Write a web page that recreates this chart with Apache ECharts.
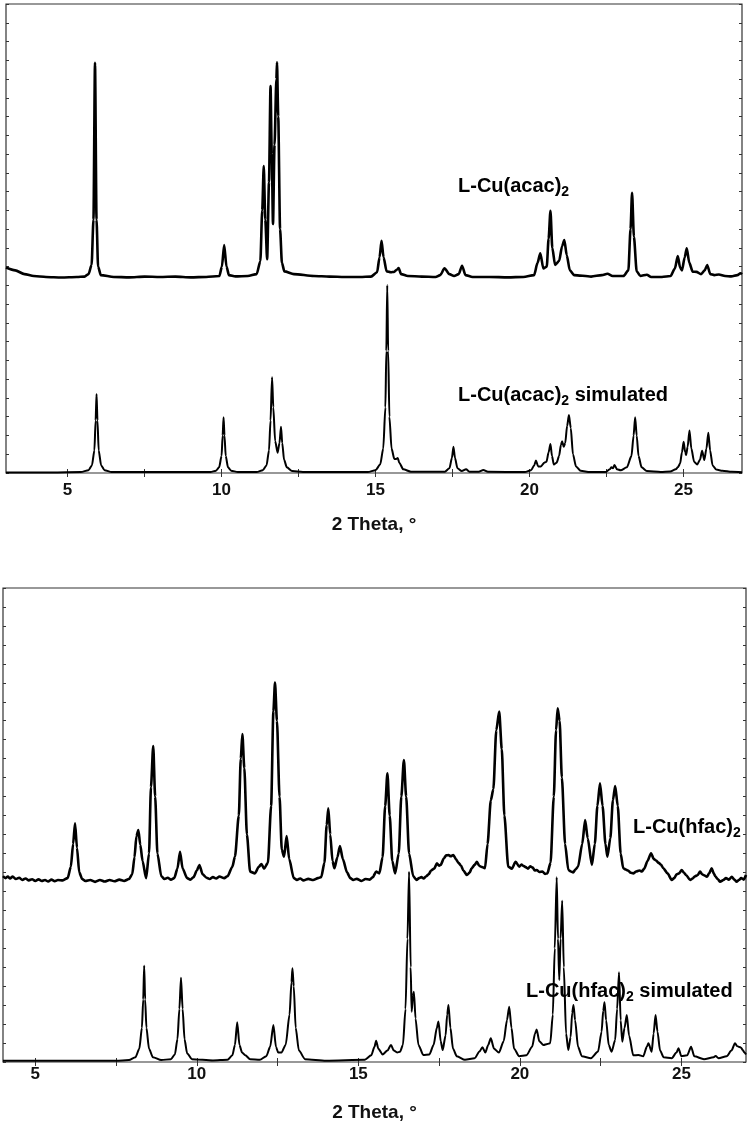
<!DOCTYPE html>
<html>
<head>
<meta charset="utf-8">
<script src="https://cdn.jsdelivr.net/npm/echarts@6/dist/echarts.min.js"></script>
<style>
html,body{margin:0;padding:0;background:#fff;}
#chart{width:751px;height:1126px;}
</style>
</head>
<body>
<div id="chart"></div>
<script>
// ---- tick labels / tick positions (2 Theta, degrees) ----
const xTickValuesTop = [5, 7.5, 10, 12.5, 15, 17.5, 20, 22.5, 25];
const xTickValuesBottom = [5, 7.5, 10, 12.5, 15, 17.5, 20, 22.5, 25];
const xLabelValues = [5, 10, 15, 20, 25];
const axisTitle = '2 Theta, °';

// ---- series names ----
const nameAcacExp = 'L-Cu(acac)2';
const nameAcacSim = 'L-Cu(acac)2 simulated';
const nameHfacExp = 'L-Cu(hfac)2';
const nameHfacSim = 'L-Cu(hfac)2 simulated';

// ---- top panel: L-Cu(acac)2 measured (offset pattern) [2theta, intensity a.u.] ----
const acacExp = [[3.0,10.95],[3.3,10.8],[3.6,10.6],[3.9,10.5],[4.3,10.45],[4.8,10.42],[5.3,10.45],[5.55,10.47],[5.68,10.6],[5.78,11.1],[5.84,13.5],[5.89,21.87],[5.94,13.5],[5.99,11.0],[6.08,10.55],[6.5,10.45],[7.0,10.43],[7.5,10.47],[8.0,10.45],[8.5,10.47],[9.0,10.43],[9.5,10.45],[9.93,10.5],[10.01,11.0],[10.085,12.15],[10.16,11.0],[10.24,10.55],[10.45,10.48],[10.85,10.5],[11.14,10.6],[11.26,11.3],[11.32,14.0],[11.37,16.36],[11.42,13.5],[11.48,11.39],[11.54,15.5],[11.59,20.63],[11.63,17.0],[11.67,13.27],[11.72,17.5],[11.78,21.0],[11.8,21.89],[11.84,19.0],[11.9,13.0],[11.96,11.2],[12.04,10.75],[12.35,10.6],[13.0,10.5],[13.5,10.47],[14.0,10.45],[14.5,10.45],[14.85,10.47],[15.05,10.7],[15.13,11.5],[15.195,12.38],[15.26,11.5],[15.36,10.75],[15.5,10.7],[15.6,10.72],[15.7,10.85],[15.75,10.93],[15.83,10.6],[16.05,10.5],[16.5,10.47],[16.95,10.45],[17.1,10.55],[17.24,10.91],[17.4,10.6],[17.55,10.5],[17.7,10.6],[17.81,11.05],[17.92,10.55],[18.15,10.45],[18.7,10.45],[19.3,10.43],[19.8,10.45],[20.15,10.55],[20.26,11.2],[20.35,11.71],[20.45,10.9],[20.56,11.0],[20.62,12.5],[20.68,13.98],[20.74,12.0],[20.83,11.09],[20.96,11.3],[21.06,12.1],[21.13,12.42],[21.21,11.6],[21.31,10.8],[21.45,10.55],[22.0,10.47],[22.35,10.55],[22.53,10.62],[22.7,10.5],[23.05,10.5],[23.21,10.8],[23.28,13.0],[23.33,14.94],[23.39,12.6],[23.48,10.75],[23.6,10.5],[23.81,10.57],[23.95,10.45],[24.3,10.45],[24.58,10.5],[24.72,10.9],[24.815,11.57],[24.89,10.95],[24.95,10.8],[25.04,11.5],[25.105,11.98],[25.19,11.2],[25.3,10.73],[25.42,10.72],[25.57,10.6],[25.69,10.8],[25.77,11.09],[25.87,10.6],[26.0,10.55],[26.15,10.58],[26.35,10.5],[26.55,10.48],[26.75,10.55],[26.85,10.65],[26.9,10.6]];

// ---- top panel: L-Cu(acac)2 simulated ----
const acacSim = [[3.0,0.02],[4.5,0.03],[5.43,0.05],[5.68,0.15],[5.79,0.4],[5.87,1.2],[5.91,2.8],[5.94,4.21],[5.97,2.8],[6.01,1.2],[6.09,0.4],[6.2,0.15],[6.43,0.05],[9.64,0.05],[9.82,0.12],[9.92,0.3],[10.0,0.9],[10.035,2.0],[10.065,2.97],[10.095,2.0],[10.135,0.9],[10.21,0.3],[10.31,0.12],[10.53,0.05],[11.14,0.05],[11.34,0.15],[11.46,0.4],[11.54,1.2],[11.59,2.8],[11.64,5.1],[11.68,3.5],[11.74,1.7],[11.82,1.08],[11.88,1.6],[11.93,2.47],[11.97,1.6],[12.03,0.7],[12.12,0.3],[12.29,0.1],[12.64,0.05],[14.75,0.05],[15.0,0.15],[15.15,0.45],[15.25,1.3],[15.32,3.5],[15.35,6.5],[15.38,10.02],[15.41,6.5],[15.45,3.0],[15.52,1.3],[15.61,0.75],[15.67,0.75],[15.72,0.8],[15.77,0.55],[15.9,0.2],[16.15,0.07],[17.25,0.07],[17.4,0.25],[17.48,0.8],[17.53,1.4],[17.58,0.8],[17.66,0.25],[17.8,0.1],[17.94,0.2],[18.05,0.07],[18.35,0.07],[18.5,0.16],[18.65,0.06],[19.85,0.05],[20.05,0.15],[20.15,0.4],[20.21,0.66],[20.28,0.35],[20.37,0.35],[20.48,0.55],[20.55,0.6],[20.62,1.1],[20.68,1.55],[20.73,0.9],[20.79,0.45],[20.88,0.55],[20.96,0.9],[21.02,1.5],[21.06,1.69],[21.11,1.4],[21.16,1.6],[21.22,2.5],[21.28,3.09],[21.34,2.4],[21.41,1.0],[21.51,0.35],[21.66,0.12],[21.96,0.05],[22.46,0.05],[22.61,0.2],[22.66,0.3],[22.71,0.25],[22.76,0.43],[22.84,0.2],[22.96,0.15],[23.16,0.3],[23.31,0.9],[23.38,2.0],[23.43,2.97],[23.48,2.0],[23.54,0.9],[23.64,0.3],[23.81,0.1],[24.26,0.05],[24.57,0.08],[24.75,0.2],[24.815,0.3],[24.89,0.5],[24.95,1.1],[25.005,1.67],[25.055,1.1],[25.085,0.96],[25.135,1.4],[25.195,2.26],[25.255,1.3],[25.345,0.6],[25.445,0.45],[25.535,0.7],[25.605,1.19],[25.675,0.69],[25.745,1.3],[25.807,2.15],[25.865,1.2],[25.945,0.4],[26.065,0.18],[26.265,0.12],[26.565,0.06],[26.9,0.04]];

// ---- bottom panel: L-Cu(hfac)2 measured (offset pattern) ----
const hfacExp = [[4.0,9.8],[4.08,9.7],[4.15,9.78],[4.22,9.68],[4.3,9.78],[4.4,9.65],[4.5,9.72],[4.6,9.6],[4.7,9.68],[4.8,9.58],[4.9,9.64],[5.0,9.55],[5.1,9.63],[5.2,9.55],[5.3,9.6],[5.4,9.52],[5.5,9.62],[5.6,9.54],[5.7,9.6],[5.85,9.58],[6.0,9.7],[6.1,10.3],[6.17,11.5],[6.23,12.59],[6.29,11.3],[6.36,10.0],[6.45,9.65],[6.55,9.55],[6.7,9.6],[6.85,9.5],[7.0,9.6],[7.15,9.52],[7.3,9.6],[7.45,9.53],[7.6,9.62],[7.75,9.55],[7.9,9.65],[8.0,9.9],[8.07,10.8],[8.13,11.9],[8.19,12.24],[8.25,11.45],[8.32,10.6],[8.43,9.69],[8.52,11.0],[8.58,14.5],[8.65,16.67],[8.71,14.0],[8.78,11.0],[8.9,9.8],[9.0,9.65],[9.1,9.72],[9.2,9.62],[9.3,9.7],[9.4,10.2],[9.48,11.09],[9.56,10.2],[9.7,9.7],[9.8,9.62],[9.9,9.75],[10.0,10.1],[10.08,10.39],[10.18,9.9],[10.3,9.72],[10.4,9.65],[10.5,9.75],[10.6,9.68],[10.7,9.78],[10.85,9.7],[10.95,9.8],[11.1,10.3],[11.18,10.83],[11.3,13.0],[11.36,16.0],[11.41,17.3],[11.47,15.5],[11.55,12.0],[11.65,10.04],[11.8,9.95],[11.92,10.3],[12.0,10.44],[12.08,10.2],[12.2,10.5],[12.3,13.5],[12.37,18.5],[12.42,20.01],[12.48,18.0],[12.56,14.0],[12.63,11.2],[12.7,10.83],[12.78,11.92],[12.86,10.7],[13.0,9.7],[13.1,9.6],[13.2,9.68],[13.3,9.58],[13.45,9.66],[13.6,9.6],[13.75,9.7],[13.85,9.75],[13.95,10.5],[14.02,12.5],[14.07,13.38],[14.13,12.0],[14.2,10.6],[14.26,10.22],[14.35,10.8],[14.43,11.39],[14.52,10.7],[14.65,10.0],[14.75,9.7],[14.84,9.6],[14.95,9.66],[15.1,9.55],[15.22,9.65],[15.35,9.62],[15.45,9.75],[15.55,10.04],[15.65,9.95],[15.75,10.8],[15.83,13.5],[15.9,15.23],[15.97,13.0],[16.05,10.6],[16.14,9.95],[16.25,11.0],[16.33,14.0],[16.41,15.93],[16.48,14.0],[16.57,11.0],[16.7,9.8],[16.8,9.6],[16.88,9.7],[16.95,9.75],[17.02,9.68],[17.1,9.8],[17.18,9.9],[17.25,10.1],[17.35,10.2],[17.43,10.48],[17.5,10.35],[17.55,10.4],[17.65,10.75],[17.72,10.9],[17.79,10.92],[17.86,10.85],[17.94,10.92],[18.02,10.7],[18.1,10.5],[18.18,10.35],[18.25,10.1],[18.36,9.86],[18.45,10.0],[18.5,10.2],[18.6,10.4],[18.67,10.56],[18.74,10.35],[18.8,10.3],[18.92,10.22],[19.0,11.5],[19.1,13.8],[19.18,14.4],[19.27,17.5],[19.36,18.48],[19.44,16.5],[19.52,13.0],[19.64,10.3],[19.75,10.2],[19.87,10.56],[19.98,10.3],[20.05,10.42],[20.1,10.35],[20.18,10.28],[20.25,10.2],[20.32,10.32],[20.4,10.25],[20.46,10.1],[20.52,10.13],[20.6,10.02],[20.7,10.05],[20.78,9.92],[20.85,9.95],[20.95,10.5],[21.05,14.0],[21.12,17.5],[21.17,18.66],[21.23,18.0],[21.3,15.0],[21.4,11.5],[21.5,10.13],[21.58,10.05],[21.65,10.0],[21.72,10.15],[21.8,10.3],[21.93,11.5],[22.02,12.76],[22.1,11.8],[22.23,10.39],[22.32,11.5],[22.4,13.5],[22.48,14.7],[22.56,13.5],[22.65,11.5],[22.71,10.83],[22.8,11.8],[22.88,13.8],[22.95,14.56],[23.03,13.5],[23.12,11.0],[23.2,10.22],[23.28,10.15],[23.35,10.1],[23.43,9.98],[23.51,9.95],[23.6,10.05],[23.7,10.1],[23.78,10.05],[23.85,10.2],[23.95,10.6],[24.06,11.01],[24.15,10.7],[24.22,10.62],[24.3,10.5],[24.37,10.4],[24.44,10.22],[24.57,9.95],[24.7,9.6],[24.78,9.7],[24.85,9.9],[24.93,9.95],[25.01,10.13],[25.08,9.98],[25.15,9.85],[25.27,9.6],[25.35,9.68],[25.42,9.8],[25.5,9.85],[25.58,10.04],[25.64,9.9],[25.7,9.85],[25.79,9.77],[25.86,9.95],[25.94,10.22],[26.0,9.95],[26.05,9.8],[26.12,9.65],[26.2,9.51],[26.3,9.6],[26.38,9.7],[26.47,9.62],[26.56,9.77],[26.64,9.62],[26.71,9.51],[26.78,9.6],[26.85,9.7],[26.93,9.62],[27.0,9.86]];

// ---- bottom panel: L-Cu(hfac)2 simulated ----
const hfacSim = [[4.0,0.07],[7.5,0.07],[7.9,0.1],[8.1,0.25],[8.22,0.7],[8.3,1.8],[8.34,3.3],[8.37,5.08],[8.4,3.3],[8.44,1.8],[8.52,0.7],[8.64,0.25],[8.9,0.1],[9.2,0.15],[9.32,0.4],[9.4,1.2],[9.46,2.8],[9.51,4.45],[9.56,2.8],[9.62,1.2],[9.7,0.45],[9.85,0.15],[10.5,0.08],[10.95,0.12],[11.1,0.35],[11.18,0.9],[11.25,2.09],[11.32,0.9],[11.4,0.5],[11.5,0.35],[11.65,0.15],[11.95,0.12],[12.15,0.3],[12.27,0.8],[12.37,1.95],[12.45,0.8],[12.52,0.5],[12.62,0.5],[12.75,0.9],[12.87,2.5],[12.93,4.2],[12.96,4.94],[13.0,4.0],[13.06,1.8],[13.16,0.6],[13.35,0.15],[14.0,0.07],[15.2,0.12],[15.4,0.35],[15.5,0.8],[15.55,1.12],[15.62,0.7],[15.75,0.4],[15.9,0.6],[16.01,0.9],[16.1,0.6],[16.2,0.5],[16.29,0.54],[16.38,0.9],[16.46,2.8],[16.52,6.5],[16.57,10.04],[16.62,5.0],[16.65,2.65],[16.69,3.5],[16.72,3.71],[16.77,2.3],[16.86,0.9],[17.01,0.37],[17.2,0.4],[17.33,0.9],[17.43,1.8],[17.48,2.13],[17.55,1.1],[17.61,0.63],[17.7,1.4],[17.75,2.5],[17.79,3.01],[17.85,1.8],[17.93,0.7],[18.05,0.3],[18.3,0.12],[18.6,0.2],[18.75,0.55],[18.84,0.78],[18.93,0.5],[19.02,0.9],[19.1,1.25],[19.2,0.7],[19.35,0.5],[19.5,1.1],[19.6,2.2],[19.67,2.92],[19.74,1.8],[19.82,0.7],[19.98,0.3],[20.2,0.35],[20.38,0.8],[20.47,1.5],[20.52,1.72],[20.6,1.1],[20.73,0.9],[20.85,0.95],[20.94,0.99],[21.02,2.5],[21.08,6.0],[21.14,9.74],[21.18,6.5],[21.22,4.32],[21.26,6.5],[21.31,8.51],[21.36,5.0],[21.43,1.5],[21.5,0.63],[21.57,1.3],[21.62,2.6],[21.66,3.01],[21.71,2.2],[21.8,0.8],[21.92,0.3],[22.2,0.2],[22.42,0.55],[22.53,1.6],[22.58,2.7],[22.62,3.15],[22.67,2.2],[22.75,0.9],[22.84,0.54],[22.95,1.16],[23.01,2.8],[23.07,4.73],[23.12,2.2],[23.17,1.07],[23.24,1.8],[23.31,2.48],[23.38,1.4],[23.51,0.35],[23.67,0.37],[23.82,0.3],[23.93,0.8],[23.98,0.99],[24.08,0.54],[24.14,1.5],[24.2,2.48],[24.26,1.6],[24.34,0.6],[24.45,0.25],[24.7,0.2],[24.85,0.5],[24.91,0.72],[25.0,0.3],[25.18,0.35],[25.3,0.81],[25.4,0.3],[25.7,0.15],[26.0,0.25],[26.06,0.32],[26.15,0.2],[26.4,0.3],[26.55,0.6],[26.66,0.99],[26.72,0.85],[26.77,0.81],[26.85,0.75],[26.9,0.63],[26.95,0.5],[27.0,0.4]];

// ---------------------------------------------------------------
const FONT = '"Liberation Sans", Arial, Helvetica, sans-serif';
const chart = echarts.init(document.getElementById('chart'), null, {renderer: 'canvas'});

function xMain(grid, min, max, ticks, labelMargin, nameGap) {
  return {
    type: 'value', gridIndex: grid, min: min, max: max, position: 'bottom',
    axisLine: {show: false},
    axisTick: {show: true, inside: true, length: 4, customValues: ticks, lineStyle: {color: '#333', width: 1}},
    axisLabel: {show: true, customValues: xLabelValues, margin: labelMargin, color: '#111',
      fontFamily: FONT, fontWeight: 'bold', fontSize: 17},
    splitLine: {show: false},
    name: axisTitle, nameLocation: 'middle', nameGap: nameGap,
    nameTextStyle: {fontFamily: FONT, fontWeight: 'bold', fontSize: 19, color: '#111'}
  };
}
function xTop(grid, min, max, ticks) {
  return {
    type: 'value', gridIndex: grid, min: min, max: max, position: 'top',
    axisLine: {show: false},
    axisTick: {show: true, inside: true, length: 4, customValues: ticks, lineStyle: {color: '#333', width: 1}},
    axisLabel: {show: false}, splitLine: {show: false}
  };
}
function yAx(grid, pos) {
  return {
    type: 'value', gridIndex: grid, min: 0, max: 25, interval: 1, position: pos,
    axisLine: {show: false},
    axisTick: {show: true, inside: true, length: 3, lineStyle: {color: '#333', width: 1}},
    axisLabel: {show: false}, splitLine: {show: false}
  };
}
function line(data, xi, yi, w) {
  return {
    type: 'line', data: data, xAxisIndex: xi, yAxisIndex: yi, showSymbol: false, symbol: 'none',
    smooth: 0.25, smoothMonotone: 'x', lineStyle: {color: '#000', width: w, join: 'round'},
    animation: false, silent: true, z: 3
  };
}
const rich = {
  a: {fontFamily: FONT, fontWeight: 'bold', fontSize: 20, lineHeight: 26, color: '#111'},
  s: {fontFamily: FONT, fontWeight: 'bold', fontSize: 14, lineHeight: 16, verticalAlign: 'bottom', color: '#111'}
};
function richText(name) {
  // trailing "2" after ")" is a subscript
  const i = name.indexOf(')2');
  const head = name.slice(0, i + 1), tail = name.slice(i + 2);
  return '{a|' + head + '}{s|2}' + (tail ? '{a|' + tail + '}' : '');
}
function label(name, left, top) {
  return {type: 'text', left: left, top: top, z: 10, silent: true,
    style: {text: richText(name), rich: rich}};
}

chart.setOption({
  animation: false,
  backgroundColor: '#fff',
  grid: [
    {left: 6, top: 4, width: 736, height: 469, show: true, borderColor: '#333', borderWidth: 1.2, backgroundColor: 'transparent'},
    {left: 3, top: 588, width: 743, height: 474, show: true, borderColor: '#333', borderWidth: 1.2, backgroundColor: 'transparent'}
  ],
  xAxis: [
    xMain(0, 3, 26.9, xTickValuesTop, 9, 42),
    xTop(0, 3, 26.9, xTickValuesTop),
    xMain(1, 4, 27, xTickValuesBottom, 4, 41),
    xTop(1, 4, 27, xTickValuesBottom)
  ],
  yAxis: [yAx(0, 'left'), yAx(0, 'right'), yAx(1, 'left'), yAx(1, 'right')],
  series: [
    line(acacExp, 0, 0, 2.6),
    line(acacSim, 0, 0, 2.0),
    line(hfacExp, 2, 2, 2.6),
    line(hfacSim, 2, 2, 2.0)
  ],
  graphic: [
    label(nameAcacExp, 458, 176),
    label(nameAcacSim, 458, 385),
    label(nameHfacExp, 633, 817),
    label(nameHfacSim, 526, 981)
  ]
});
</script>
</body>
</html>
